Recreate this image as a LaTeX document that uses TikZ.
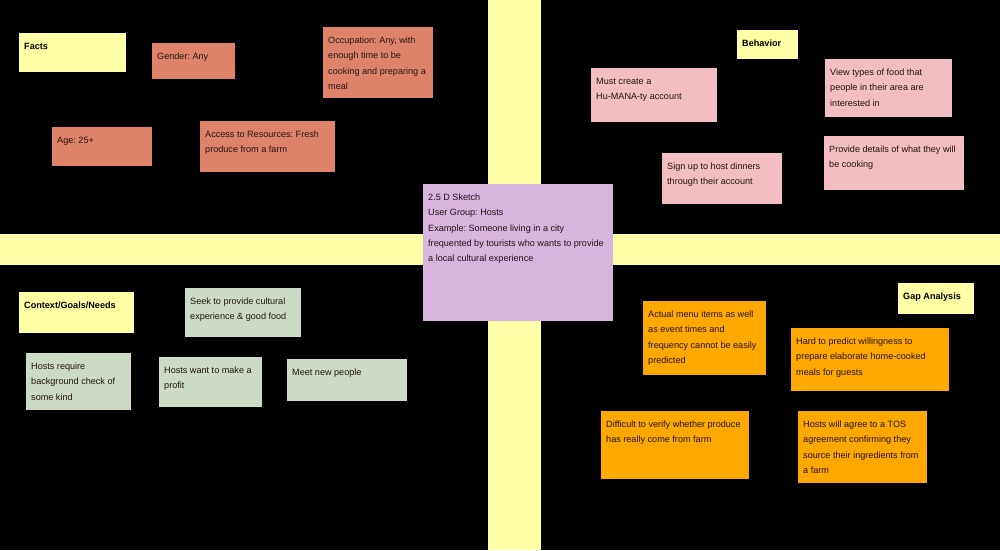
\documentclass[tikz,border=0pt]{standalone}
\usepackage{fontspec}
\setmainfont{Liberation Sans}
\usepackage{tikz}

\definecolor{barcol}{RGB}{255,255,168}
\definecolor{headcol}{RGB}{255,255,165}
\definecolor{salmon}{RGB}{222,130,106}
\definecolor{rosy}{RGB}{242,190,193}
\definecolor{lilac}{RGB}{216,180,223}
\definecolor{sage}{RGB}{204,218,198}
\definecolor{amber}{RGB}{255,168,0}
\definecolor{ink}{RGB}{36,20,18}

% sticky note body: width, height, text (top left aligned)
\newcommand{\stickytext}[3]{\parbox[t][#2pt][t]{\dimexpr#1pt-10pt\relax}{\raggedright\frenchspacing\rule{0pt}{16pt}#3}}

\begin{document}
\begin{tikzpicture}[x=1pt,y=-1pt,
  sticky/.style={anchor=north west,inner xsep=5pt,inner ysep=0pt,text=ink,
    font=\fontsize{9.1}{15.4}\selectfont},
  header/.style={sticky,fill=headcol,text=black,font=\fontsize{9.1}{15.4}\selectfont\bfseries}]
  \useasboundingbox (0,0) rectangle (1000,550);
  \fill[black] (0,0) rectangle (1000,550);
  % quadrant bars
  \fill[barcol] (488,0) rectangle (541,550);
  \fill[barcol] (0,234) rectangle (1000,265);

  % facts
  \node[header] (facts) at (19,33) {\stickytext{107}{39}{Facts}};
  \node[sticky,fill=salmon] (gender) at (152,43) {\stickytext{83}{36}{Gender: Any}};
  \node[sticky,fill=salmon] (occupation) at (323,27) {\stickytext{110}{71}{Occupation: Any, with\\enough time to be\\cooking and preparing a\\meal}};
  \node[sticky,fill=salmon] (age) at (52,127) {\stickytext{100}{39}{Age: 25+}};
  \node[sticky,fill=salmon] (access) at (200,121) {\stickytext{135}{51}{Access to Resources: Fresh\\produce from a farm}};

  % behavior
  \node[header] (behavior) at (737,30) {\stickytext{61}{29}{Behavior}};
  \node[sticky,fill=rosy] (account) at (591,68) {\stickytext{126}{54}{Must create a\\Hu-MANA-ty account}};
  \node[sticky,fill=rosy] (viewfood) at (825,59) {\stickytext{127}{58}{View types of food that\\people in their area are\\interested in}};
  \node[sticky,fill=rosy] (signup) at (662,153) {\stickytext{120}{51}{Sign up to host dinners\\through their account}};
  \node[sticky,fill=rosy] (details) at (824,136) {\stickytext{140}{54}{Provide details of what they will\\be cooking}};

  % user group
  \node[sticky,fill=lilac] (sketch) at (423,184) {\stickytext{190}{137}{2.5 D Sketch\\User Group: Hosts\\Example: Someone living in a city\\frequented by tourists who wants to provide\\a local cultural experience}};

  % context / goals / needs
  \node[header] (context) at (19,292) {\stickytext{115}{41}{Context/Goals/Needs}};
  \node[sticky,fill=sage] (seek) at (185,288) {\stickytext{116}{49}{Seek to provide cultural\\experience \& good food}};
  \node[sticky,fill=sage] (check) at (26,353) {\stickytext{105}{57}{Hosts require\\background check of\\some kind}};
  \node[sticky,fill=sage] (profit) at (159,357) {\stickytext{103}{50}{Hosts want to make a\\profit}};
  \node[sticky,fill=sage] (meet) at (287,359) {\stickytext{120}{42}{Meet new people}};

  % gap analysis
  \node[header] (gap) at (898,283) {\stickytext{76}{31}{Gap Analysis}};
  \node[sticky,fill=amber] (menu) at (643,301) {\stickytext{123}{74}{Actual menu items as well\\as event times and\\frequency cannot be easily\\predicted}};
  \node[sticky,fill=amber] (willing) at (791,328) {\stickytext{158}{63}{Hard to predict willingness to\\prepare elaborate home-cooked\\meals for guests}};
  \node[sticky,fill=amber] (verify) at (601,411) {\stickytext{148}{68}{Difficult to verify whether produce\\has really come from farm}};
  \node[sticky,fill=amber] (tos) at (798,411) {\stickytext{129}{72}{Hosts will agree to a TOS\\agreement confirming they\\source their ingredients from\\a farm}};
\end{tikzpicture}
\end{document}
